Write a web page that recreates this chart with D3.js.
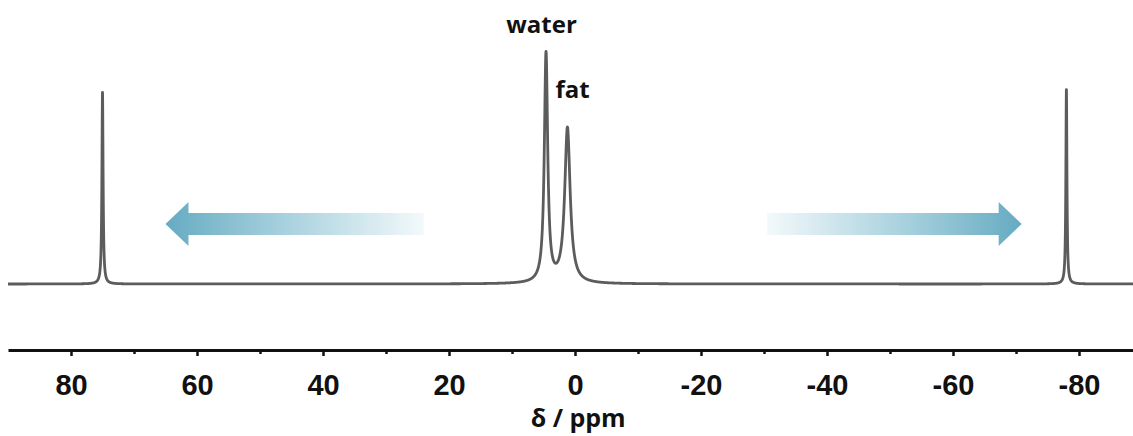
<!DOCTYPE html>
<html>
<head>
<meta charset="utf-8">
<script src="https://cdn.jsdelivr.net/npm/d3@7/dist/d3.min.js"></script>
<style>
  html, body { margin: 0; padding: 0; background: #ffffff; }
  svg { display: block; }
</style>
</head>
<body>
<svg id="chart" width="1133" height="436"></svg>
<script>
// Resonances of the spectrum (chemical shift in ppm, relative intensity, half width in ppm)
const peakNames   = ["shifted +", "water", "fat", "shifted -"];
const peakShifts  = [75.0, 4.6, 1.2, -78.0];
const peakHeights = [0.826, 0.987, 0.668, 0.838];
const peakWidths  = [0.11, 0.32, 0.52, 0.10];

// Peak labels
const labelTexts  = ["water", "fat"];
const labelShifts = [5.3, 3.1];
const labelLevels = [1.08, 0.80];

// Shift direction arrows (tail ppm -> head ppm, at a given intensity level)
const arrowTails  = [24.0, -30.5];
const arrowHeads  = [65.0, -70.9];
const arrowLevel  = 0.259;

// Axis ticks
const majorTicks  = [80, 60, 40, 20, 0, -20, -40, -60, -80];
const minorTicks  = [70, 50, 30, 10, -10, -30, -50, -70];
const axisTitle   = "δ / ppm";

const width = 1133, height = 436;
const svg = d3.select("#chart");

const x = d3.scaleLinear().domain([90, -90]).range([8, 1142]);
const y = d3.scaleLinear().domain([0, 1]).range([284, 52]);

// Arrow gradients
const defs = svg.append("defs");
function gradient(id, x1, x2) {
  const g = defs.append("linearGradient").attr("id", id)
    .attr("gradientUnits", "userSpaceOnUse")
    .attr("x1", x1).attr("x2", x2).attr("y1", 0).attr("y2", 0);
  g.append("stop").attr("offset", "0%").attr("stop-color", "#f3f9fb");
  g.append("stop").attr("offset", "55%").attr("stop-color", "#a6d0dd");
  g.append("stop").attr("offset", "100%").attr("stop-color", "#66abc2");
}

const shaftHalf = 11, headHalf = 22, headLen = 23;
arrowTails.forEach((t, i) => {
  const xt = x(t), xh = x(arrowHeads[i]);
  const dir = Math.sign(xh - xt);
  const yc = y(arrowLevel);
  const xb = xh - dir * headLen;
  gradient("arrowGrad" + i, xt, xh);
  const pts = [
    [xt, yc - shaftHalf], [xb, yc - shaftHalf], [xb, yc - headHalf],
    [xh, yc], [xb, yc + headHalf], [xb, yc + shaftHalf], [xt, yc + shaftHalf]
  ];
  svg.append("path")
    .attr("d", "M" + pts.map(p => p.join(",")).join("L") + "Z")
    .attr("fill", `url(#arrowGrad${i})`);
});

// Spectrum: sum of Lorentzian lines
function intensity(d) {
  let s = 0;
  for (let i = 0; i < peakShifts.length; i++) {
    const g = peakWidths[i], dx = d - peakShifts[i];
    s += peakHeights[i] * g * g / (dx * dx + g * g);
  }
  return s;
}
const shifts = d3.range(90, -90.0001, -0.01);
const line = d3.line().x(d => x(d)).y(d => y(intensity(d)));
svg.append("path")
  .datum(shifts)
  .attr("d", line)
  .attr("fill", "none")
  .attr("stroke", "#5c5c5c")
  .attr("stroke-width", 2.8)
  .attr("stroke-linejoin", "round");

// Peak labels
svg.selectAll("text.peak")
  .data(labelTexts)
  .join("text")
  .attr("class", "peak")
  .attr("x", (d, i) => x(labelShifts[i]))
  .attr("y", (d, i) => y(labelLevels[i]))
  .attr("text-anchor", (d, i) => i === 0 ? "middle" : "start")
  .attr("font-family", "'Open Sans', sans-serif")
  .attr("font-weight", 700)
  .attr("font-size", 24)
  .attr("fill", "#111")
  .text(d => d);

// Axis
const axisY = 350;
const axisG = svg.append("g").attr("transform", `translate(0,${axisY})`);
axisG.call(d3.axisBottom(x).tickValues(majorTicks).tickSize(6).tickSizeOuter(0)
  .tickFormat(d => String(d)));
axisG.select(".domain").attr("stroke", "#111").attr("stroke-width", 3);
axisG.selectAll(".tick line").attr("stroke", "#111").attr("stroke-width", 2.5);
axisG.selectAll(".tick text")
  .attr("y", 45).attr("dy", 0)
  .attr("font-family", "'Liberation Sans', Arial, sans-serif")
  .attr("font-weight", 700)
  .attr("font-size", 29)
  .attr("fill", "#111");

const minorG = svg.append("g").attr("transform", `translate(0,${axisY})`);
minorG.call(d3.axisBottom(x).tickValues(minorTicks).tickSize(4).tickFormat(""));
minorG.select(".domain").remove();
minorG.selectAll(".tick line").attr("stroke", "#111").attr("stroke-width", 2.5);

svg.append("text")
  .attr("x", x(-0.5))
  .attr("y", 427)
  .attr("text-anchor", "middle")
  .attr("font-family", "'Open Sans', sans-serif")
  .attr("font-weight", 700)
  .attr("font-size", 25)
  .attr("fill", "#111")
  .text(axisTitle);
</script>
</body>
</html>
